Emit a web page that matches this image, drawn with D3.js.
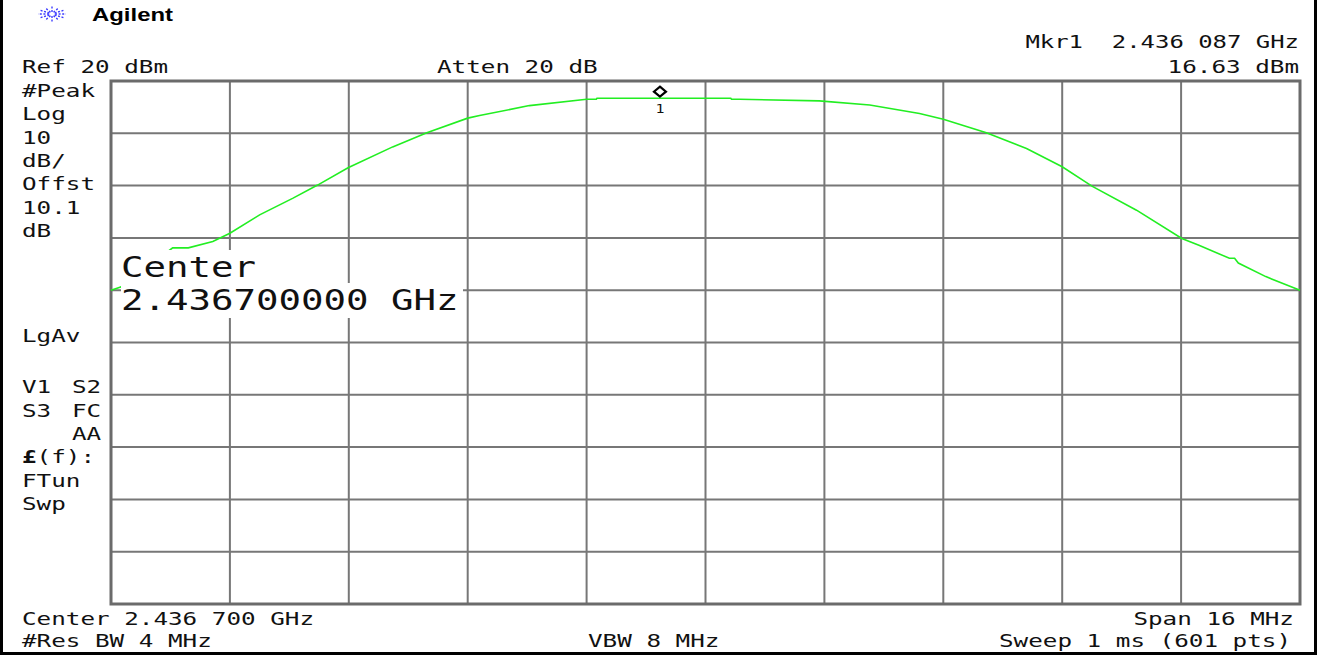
<!DOCTYPE html>
<html>
<head>
<meta charset="utf-8">
<script src="https://cdn.jsdelivr.net/npm/d3@7"></script>
<style>
body { margin: 0; background: #fff; }
text { white-space: pre; }
</style>
</head>
<body>
<script>
const width = 1321, height = 655;

// trace: offset from center (MHz) and level (dBm)
const traceOffsetMHz = [-8.00, -7.87, -7.17, -6.96, -6.63, -6.40, -6.00, -5.55, -5.22, -4.81,
  -4.21, -3.75, -3.20, -3.04, -2.37, -1.60, -1.47, -1.46, 0.34, 0.35, 0.46, 1.53, 2.21, 2.88,
  3.20, 3.78, 4.32, 4.80, 5.20, 5.80, 6.41, 6.64, 7.05, 7.12, 7.17, 7.54, 8.00];
const traceDbm = [-20.0, -19.4, -11.9, -11.9, -10.7, -9.1, -5.6, -2.4, 0.1, 3.4,
  7.4, 10.1, 12.9, 13.4, 15.3, 16.5, 16.5, 16.7, 16.7, 16.5, 16.5, 16.2, 15.4, 13.8,
  12.7, 10.1, 7.1, 3.6, -0.1, -4.7, -10.1, -11.4, -13.9, -13.9, -14.8, -17.4, -20.0];

const gridOffsetMHz = [-8, -6.4, -4.8, -3.2, -1.6, 0, 1.6, 3.2, 4.8, 6.4, 8];
const gridDbm = [20, 10, 0, -10, -20, -30, -40, -50, -60, -70, -80];

const markerOffsetMHz = -0.613;
const markerDbm = 16.63;

const sideTop = ["#Peak", "Log", "10", "dB/", "Offst", "10.1", "dB"];
const sideBottom = ["FTun", "Swp"];

const mono = "DejaVu Sans Mono";
const adv = 14.6;

const x = d3.scaleLinear().domain([-8, 8]).range([111, 1300]);
const y = d3.scaleLinear().domain([20, -80]).range([81, 604]);

const svg = d3.select("body").append("svg")
    .attr("width", width)
    .attr("height", height);

function label(px, py, s, anchor, size, a) {
  return svg.append("text")
    .attr("x", px)
    .attr("y", py)
    .attr("text-anchor", anchor || "start")
    .attr("font-family", mono)
    .attr("font-size", size || 17)
    .attr("textLength", s.length * (a || adv))
    .attr("lengthAdjust", "spacingAndGlyphs")
    .attr("fill", "#111")
    .text(s);
}

// outer frame
svg.append("line").attr("x1", 1.5).attr("x2", 1.5).attr("y1", 0).attr("y2", height)
    .attr("stroke", "black").attr("stroke-width", 3);
svg.append("line").attr("x1", 1315.5).attr("x2", 1315.5).attr("y1", 0).attr("y2", height)
    .attr("stroke", "black").attr("stroke-width", 3);
svg.append("line").attr("x1", 0).attr("x2", 1317).attr("y1", 653.5).attr("y2", 653.5)
    .attr("stroke", "black").attr("stroke-width", 3);

// logo
const logo = svg.append("g").attr("transform", "translate(52,14)");
d3.range(0, 360, 30).forEach(function(deg) {
  const r = deg * Math.PI / 180;
  logo.append("line")
    .attr("x1", 3 * Math.cos(r)).attr("y1", 2 * Math.sin(r))
    .attr("x2", 14 * Math.cos(r)).attr("y2", 7.5 * Math.sin(r))
    .attr("stroke", "#3d3dff")
    .attr("stroke-width", 1.4)
    .attr("stroke-dasharray", "2,1.6");
});
svg.append("text")
    .attr("x", 92).attr("y", 21)
    .attr("font-family", "Liberation Sans")
    .attr("font-weight", "bold")
    .attr("font-size", 19)
    .attr("textLength", 81)
    .attr("lengthAdjust", "spacingAndGlyphs")
    .text("Agilent");

// grid
svg.append("g").selectAll("line")
  .data(gridOffsetMHz.slice(1, -1))
  .join("line")
    .attr("x1", d => x(d)).attr("x2", d => x(d))
    .attr("y1", y(20)).attr("y2", y(-80))
    .attr("stroke", "#777").attr("stroke-width", 2);
svg.append("g").selectAll("line")
  .data(gridDbm.slice(1, -1))
  .join("line")
    .attr("x1", x(-8)).attr("x2", x(8))
    .attr("y1", d => y(d)).attr("y2", d => y(d))
    .attr("stroke", "#777").attr("stroke-width", 2);
svg.append("rect")
    .attr("x", x(-8)).attr("y", y(20))
    .attr("width", x(8) - x(-8)).attr("height", y(-80) - y(20))
    .attr("fill", "none").attr("stroke", "#6b6b6b").attr("stroke-width", 3);

// trace
const pts = traceOffsetMHz.map((f, i) => [f, traceDbm[i]]);
svg.append("path")
    .attr("d", d3.line().x(d => x(d[0])).y(d => y(d[1]))(pts))
    .attr("fill", "none")
    .attr("stroke", "#22ee22")
    .attr("stroke-width", 1.6);

// marker
const mx = x(markerOffsetMHz), my = y(markerDbm);
svg.append("path")
    .attr("d", `M${mx},${my - 12} L${mx + 6},${my - 7} L${mx},${my - 2} L${mx - 6},${my - 7} Z`)
    .attr("fill", "white").attr("stroke", "black").attr("stroke-width", 2.2);
label(mx, my + 14.5, "1", "middle", 13, 9);

// center annotation over the trace
svg.append("rect").attr("x", 121).attr("y", 250).attr("width", 136).attr("height", 33).attr("fill", "white");
svg.append("rect").attr("x", 121).attr("y", 283).attr("width", 342).attr("height", 35).attr("fill", "white");
label(121, 277, "Center", "start", 29, 22.5);
label(121, 310, "2.436700000 GHz", "start", 29, 22.5);

// header texts
label(22, 73, "Ref 20 dBm");
label(437, 73, "Atten 20 dB");
label(1299, 48, "Mkr1  2.436 087 GHz", "end", 17, 14.4);
label(1299, 73, "16.63 dBm", "end");

// side panel
sideTop.forEach((s, i) => label(22, 97 + i * 23.3, s));
label(22, 342, "LgAv");
label(22, 393, "V1");
label(72, 393, "S2");
label(22, 417, "S3");
label(72, 417, "FC");
label(72, 440, "AA");
const fLabel = label(22, 463, "", "start").attr("textLength", 5 * adv);
fLabel.append("tspan").attr("font-weight", "bold").text("£");
fLabel.append("tspan").text("(f):");
sideBottom.forEach((s, i) => label(22, 486.5 + i * 23.5, s));

// footer
label(22, 625, "Center 2.436 700 GHz");
label(22, 647, "#Res BW 4 MHz");
label(588, 647, "VBW 8 MHz");
label(1294, 625, "Span 16 MHz", "end");
label(1291, 647, "Sweep 1 ms (601 pts)", "end");
</script>
</body>
</html>
